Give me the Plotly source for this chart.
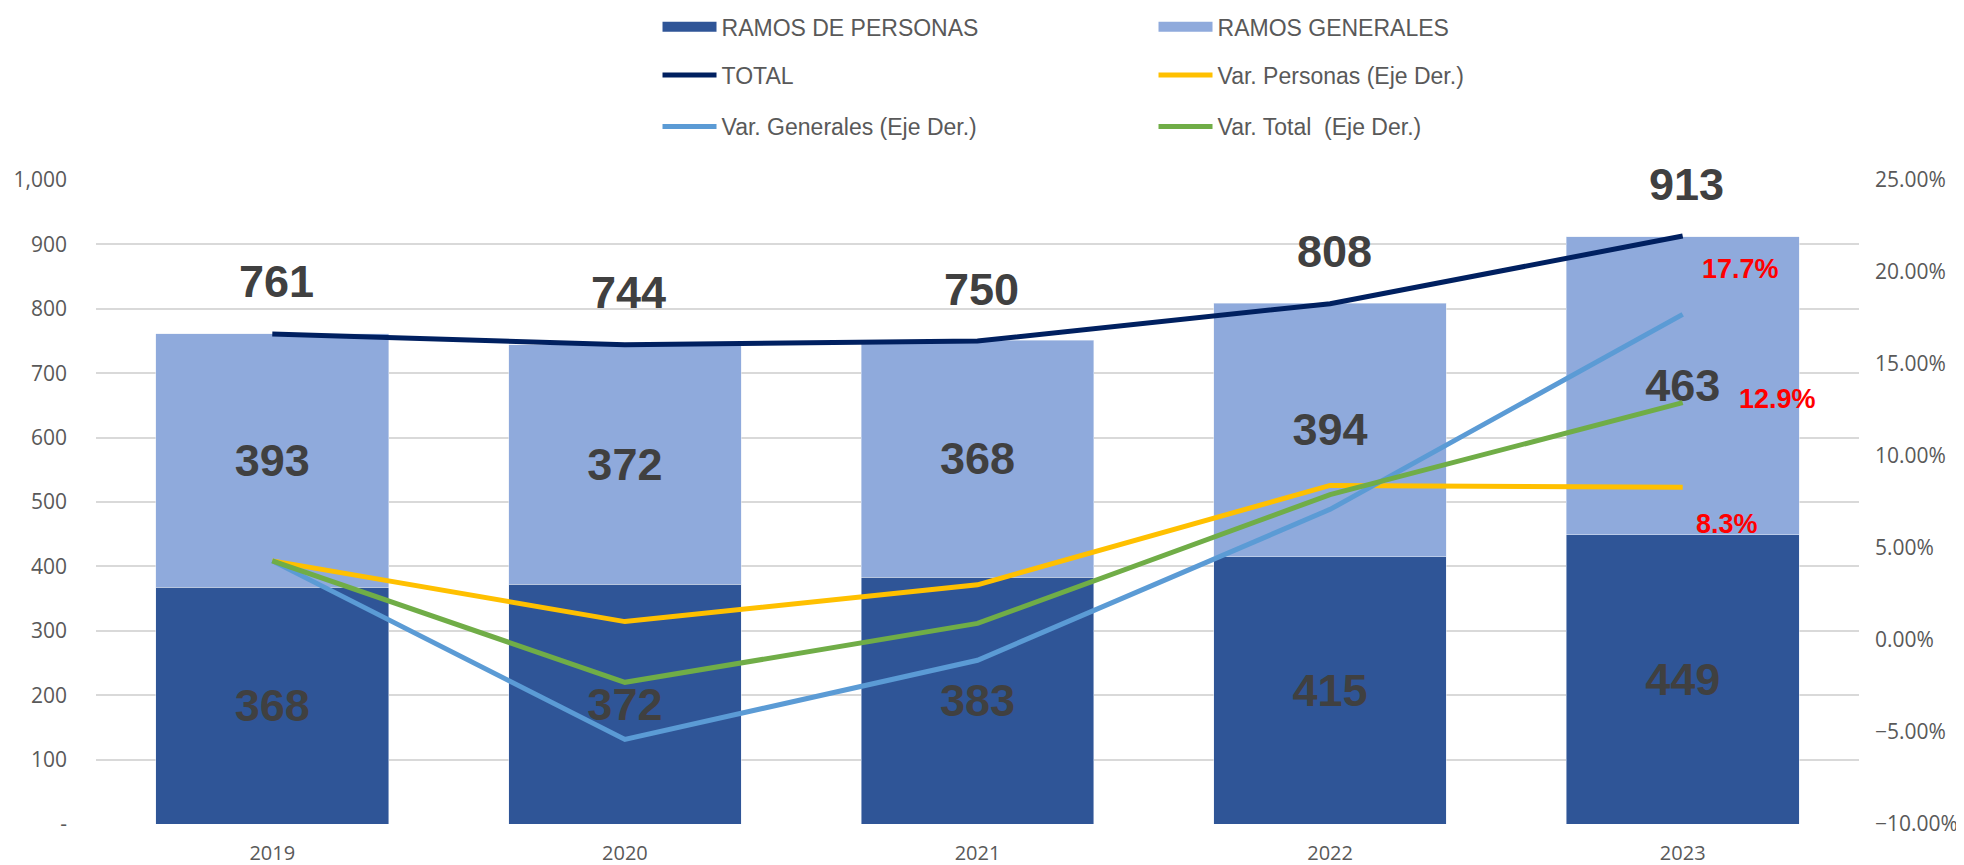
import plotly.graph_objects as go

years = ["2019", "2020", "2021", "2022", "2023"]
personas = [368, 372, 383, 415, 449]
generales = [393, 372, 368, 394, 463]
total = [761, 744, 750, 808, 913]
var_personas = [4.3, 1.0, 3.0, 8.4, 8.3]
var_generales = [4.3, -5.4, -1.1, 7.1, 17.7]
var_total = [4.3, -2.3, 0.9, 7.9, 12.9]

left_ticks = [0, 100, 200, 300, 400, 500, 600, 700, 800, 900, 1000]
left_ticktext = ["-", "100", "200", "300", "400", "500", "600", "700", "800", "900", "1,000"]

C_PERS = "#2F5597"
C_GEN = "#8FAADC"
C_TOT = "#002060"
C_VP = "#FFC000"
C_VG = "#5B9BD5"
C_VT = "#70AD47"
LBL = "#404040"
AX = "#595959"
BIG = dict(family="Liberation Sans, Arial", size=45, color=LBL, weight="bold")
LEGFONT = dict(family="Liberation Sans Narrow, Arial Narrow, Liberation Sans", size=23, color=AX)

fig = go.Figure()
fig.add_trace(go.Bar(x=years, y=personas, name="RAMOS DE PERSONAS", marker_color=C_PERS,
                     text=[str(v) for v in personas], textposition="inside", insidetextanchor="middle",
                     textangle=0, textfont=BIG, legendgroup="pers", showlegend=False))
fig.add_trace(go.Bar(x=years, y=generales, name="RAMOS GENERALES", marker_color=C_GEN,
                     text=[str(v) for v in generales], textposition="inside", insidetextanchor="middle",
                     textangle=0, textfont=BIG, legendgroup="gen", showlegend=False))
# legend-only swatches for the bar series (wide rectangles like the original)
fig.add_trace(go.Scatter(x=[None], y=[None], name="RAMOS DE PERSONAS", mode="lines",
                         line=dict(color=C_PERS, width=17), legendgroup="pers", legend="legend",
                         hoverinfo="skip"))
fig.add_trace(go.Scatter(x=[None], y=[None], name="RAMOS GENERALES", mode="lines",
                         line=dict(color=C_GEN, width=17), legendgroup="gen", legend="legend",
                         hoverinfo="skip"))
fig.add_trace(go.Scatter(x=years, y=total, name="TOTAL", mode="lines",
                         line=dict(color=C_TOT, width=5), legend="legend2"))
fig.add_trace(go.Scatter(x=years, y=var_personas, name="Var. Personas (Eje Der.)", mode="lines",
                         line=dict(color=C_VP, width=5), yaxis="y2", legend="legend2"))
fig.add_trace(go.Scatter(x=years, y=var_generales, name="Var. Generales (Eje Der.)", mode="lines",
                         line=dict(color=C_VG, width=5), yaxis="y2", legend="legend3"))
fig.add_trace(go.Scatter(x=years, y=var_total, name="Var. Total  (Eje Der.)", mode="lines",
                         line=dict(color=C_VT, width=5), yaxis="y2", legend="legend3"))

annotations = []
for i, t in enumerate(total):
    annotations.append(dict(x=i, y=t, xref="x", yref="y", text=str(t), showarrow=False,
                            font=BIG, yshift=52, xshift=4))

red = dict(family="Liberation Sans, Arial", size=27, color="#FF0000", weight="bold")
last = len(years) - 1
annotations.append(dict(x=last, y=var_generales[-1], xref="x", yref="y2",
                        text=f"{var_generales[-1]:.1f}%", showarrow=False, font=red,
                        xshift=58, yshift=45))
annotations.append(dict(x=last, y=var_total[-1], xref="x", yref="y2",
                        text=f"{var_total[-1]:.1f}%", showarrow=False, font=red,
                        xshift=95, yshift=4))
annotations.append(dict(x=last, y=var_personas[-1], xref="x", yref="y2",
                        text=f"{var_personas[-1]:.1f}%", showarrow=False, font=red,
                        xshift=44, yshift=-37))

leg_common = dict(orientation="h", xanchor="left", yanchor="middle", x=0.3185,
                  entrywidth=427, entrywidthmode="pixels", font=LEGFONT,
                  traceorder="normal", itemwidth=54, itemsizing="trace",
                  bgcolor="rgba(0,0,0,0)")

# the page body adds an 8 px offset, so the figure is 8 px smaller and margins compensate
fig.update_layout(
    width=1956, height=857,
    margin=dict(l=88, r=105, t=172, b=41, autoexpand=False),
    paper_bgcolor="white", plot_bgcolor="white",
    barmode="stack", bargap=0.34,
    font=dict(family="Open Sans, Liberation Sans", color=AX, size=20),
    xaxis=dict(type="category", showgrid=False, showline=False, zeroline=False,
               tickfont=dict(size=20, color=AX), ticklabelstandoff=15),
    yaxis=dict(range=[0, 1000], tickvals=left_ticks, ticktext=left_ticktext,
               showgrid=True, gridcolor="#D9D9D9", gridwidth=1.5, zeroline=False,
               showline=False, tickfont=dict(size=21, color=AX), ticklabelstandoff=28),
    yaxis2=dict(range=[-10, 25], dtick=5, tick0=0, tickformat=".2f", ticksuffix="%",
                overlaying="y", side="right", showgrid=False, zeroline=False, showline=False,
                tickfont=dict(size=21, color=AX), ticklabelstandoff=15),
    legend=dict(y=1.238, **leg_common),
    legend2=dict(y=1.163, **leg_common),
    legend3=dict(y=1.083, **leg_common),
    annotations=annotations,
    showlegend=True,
)

fig.write_html("out.html")
